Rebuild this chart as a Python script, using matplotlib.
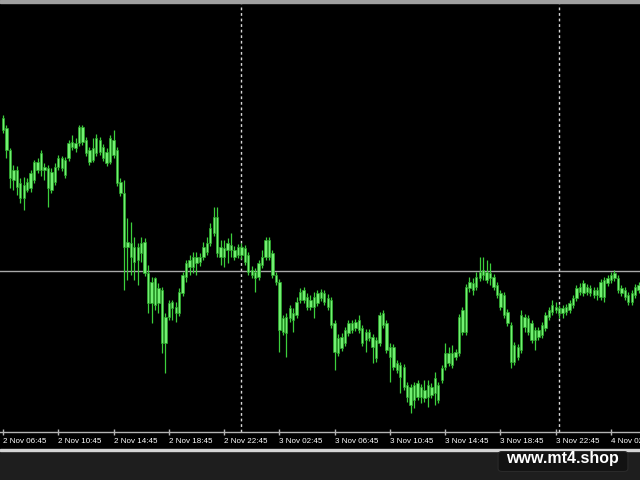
import matplotlib
matplotlib.use("Agg")
import matplotlib.pyplot as plt
from matplotlib.patches import Rectangle, FancyBboxPatch

# M15 candles, price in points (no price scale visible on the screenshot)
opens = [382, 372, 350, 320, 330, 317, 302, 310, 312, 320, 338, 330, 333, 332, 310, 318, 333, 342, 325, 342,
         353, 357, 357, 373, 360, 350, 340, 347, 360, 353, 348, 338, 360, 350, 318, 307, 253, 257, 238, 253,
         247, 258, 227, 197, 222, 197, 210, 157, 183, 198, 187, 187, 207, 223, 233, 233, 243, 238, 243, 248,
         257, 267, 283, 253, 243, 250, 255, 250, 245, 253, 252, 245, 230, 228, 223, 235, 243, 260, 247, 225,
         218, 168, 183, 182, 187, 185, 200, 200, 203, 193, 203, 197, 202, 207, 202, 200, 177, 147, 152, 157,
         167, 177, 172, 180, 172, 160, 168, 163, 160, 157, 175, 177, 153, 153, 137, 135, 133, 115, 113, 100,
         103, 113, 102, 103, 113, 107, 115, 120, 133, 147, 135, 143, 147, 168, 168, 212, 217, 213, 222, 225,
         228, 222, 223, 215, 207, 205, 188, 175, 138, 153, 150, 183, 182, 177, 160, 170, 165, 172, 183, 188,
         193, 192, 187, 188, 190, 195, 202, 208, 207, 213, 212, 210, 205, 203, 203, 217, 220, 222, 222, 212,
         210, 205, 198, 205, 210]
highs = [385, 375, 352, 335, 334, 322, 323, 322, 330, 340, 342, 350, 337, 335, 332, 337, 345, 344, 343, 360,
         365, 362, 375, 375, 363, 353, 362, 366, 363, 356, 352, 365, 370, 353, 322, 320, 282, 278, 263, 257,
         263, 262, 235, 223, 223, 217, 213, 187, 200, 200, 198, 212, 228, 240, 245, 248, 248, 247, 258, 263,
         277, 293, 293, 260, 260, 262, 267, 254, 256, 257, 255, 248, 234, 232, 240, 250, 263, 263, 250, 228,
         221, 185, 187, 195, 192, 203, 212, 213, 207, 205, 208, 210, 211, 210, 206, 203, 180, 166, 167, 173,
         180, 180, 181, 185, 175, 171, 171, 166, 163, 188, 190, 180, 157, 156, 140, 138, 136, 118, 116, 118,
         120, 116, 120, 120, 117, 128, 118, 135, 157, 153, 155, 151, 186, 193, 216, 223, 222, 228, 243, 243,
         240, 237, 226, 218, 210, 208, 191, 178, 158, 156, 190, 186, 185, 180, 173, 173, 178, 188, 193, 200,
         198, 195, 195, 196, 200, 205, 215, 217, 220, 216, 215, 213, 213, 221, 223, 225, 228, 230, 225, 215,
         213, 208, 210, 216, 218]
lows = [367, 342, 312, 310, 305, 297, 290, 308, 308, 317, 327, 324, 320, 293, 307, 315, 330, 329, 322, 339,
        350, 348, 354, 355, 344, 335, 338, 344, 345, 339, 334, 336, 342, 314, 304, 210, 220, 225, 220, 215,
        238, 224, 187, 177, 190, 187, 147, 127, 180, 180, 178, 184, 204, 218, 225, 227, 225, 234, 240, 245,
        254, 264, 243, 235, 233, 237, 243, 240, 242, 241, 235, 225, 222, 208, 220, 232, 240, 240, 222, 215,
        148, 165, 143, 178, 168, 182, 197, 197, 190, 190, 182, 194, 199, 195, 190, 172, 130, 144, 149, 154,
        164, 167, 169, 167, 154, 148, 159, 137, 138, 154, 172, 147, 118, 130, 127, 107, 110, 98, 87, 92,
        100, 97, 98, 93, 102, 95, 97, 117, 130, 134, 132, 140, 144, 165, 165, 208, 205, 210, 219, 220,
        217, 215, 210, 202, 190, 182, 174, 132, 135, 140, 147, 168, 165, 157, 150, 160, 162, 169, 180, 185,
        187, 182, 182, 185, 187, 192, 199, 205, 204, 205, 204, 202, 200, 200, 198, 214, 217, 219, 207, 204,
        200, 195, 195, 202, 207]
closes = [370, 350, 322, 330, 313, 302, 315, 318, 327, 338, 330, 347, 330, 312, 328, 333, 342, 332, 340, 357,
          358, 352, 373, 358, 347, 338, 352, 362, 348, 342, 337, 362, 345, 317, 307, 253, 258, 243, 253, 240,
          257, 227, 197, 218, 195, 212, 157, 183, 197, 192, 193, 208, 225, 237, 240, 243, 237, 243, 253, 257,
          272, 283, 247, 243, 252, 257, 250, 243, 253, 245, 238, 228, 225, 222, 237, 243, 260, 243, 225, 218,
          170, 182, 167, 192, 180, 198, 208, 210, 193, 200, 193, 207, 208, 198, 193, 175, 148, 162, 163, 170,
          177, 170, 178, 170, 157, 168, 162, 153, 142, 185, 187, 150, 143, 133, 130, 123, 113, 103, 95, 115,
          117, 103, 110, 115, 105, 122, 100, 132, 147, 137, 147, 148, 183, 190, 213, 218, 210, 223, 228, 230,
          220, 227, 213, 205, 193, 185, 177, 138, 155, 143, 185, 173, 168, 160, 170, 163, 175, 185, 190, 195,
          190, 187, 192, 193, 197, 202, 212, 213, 217, 208, 207, 205, 210, 218, 220, 222, 225, 227, 210, 207,
          203, 198, 207, 213, 215]

tick_labels = ["2 Nov 06:45", "2 Nov 10:45", "2 Nov 14:45", "2 Nov 18:45", "2 Nov 22:45", "3 Nov 02:45",
               "3 Nov 06:45", "3 Nov 10:45", "3 Nov 14:45", "3 Nov 18:45", "3 Nov 22:45", "4 Nov 02:45"]
tick_bars = [0, 16, 32, 48, 64, 80, 96, 112, 128, 144, 160, 176]
separators = [69, 161]      # day separators (bar index)
hline_level = 229

n = len(closes)
idx = list(range(n))

fig = plt.figure(figsize=(6.4, 4.8), dpi=100, facecolor="black")

# axes occupies the chart window
ax = fig.add_axes([0, 48 / 480, 1, 428 / 480])
ax.set_facecolor("black")
ax.set_xlim(-0.87, 184.4)
ax.set_ylim(68, 496)

for s in separators:
    ax.axvline(s, color="#d8d8d8", lw=1, ls=(0, (2, 2)), zorder=1)
ax.axhline(hline_level, color="#a8a8a8", lw=1, zorder=1)

# wicks
ax.vlines(idx, lows, highs, color="#3ccf3c", lw=0.9, zorder=2)
# bodies
bottoms = [min(o, c) for o, c in zip(opens, closes)]
heights = [max(abs(c - o), 1.2) for o, c in zip(opens, closes)]
ax.bar(idx, heights, bottom=bottoms, width=0.7, color="#72f072",
       edgecolor="#2aa82a", linewidth=0.5, zorder=3)

for sp in ["top", "left", "right"]:
    ax.spines[sp].set_visible(False)
ax.spines["bottom"].set_color("#b4b4b4")
ax.spines["bottom"].set_linewidth(1)
ax.set_yticks([])
# last label runs off the right edge, as in the terminal window
ax.set_xticks(tick_bars, tick_labels, ha="left", fontsize=5.8,
              family=["Liberation Sans", "DejaVu Sans"])
ax.tick_params(axis="x", colors="#b4b4b4", labelcolor="white", direction="inout",
               length=4, width=1, pad=2)

# window frame bits
fig.patches.append(Rectangle((0, 477 / 480), 1, 3 / 480, transform=fig.transFigure,
                             color="#a0a0a0", zorder=0))
fig.patches.append(Rectangle((0, 0), 1, 29 / 480, transform=fig.transFigure,
                             color="#1e1e1e", zorder=0))
fig.patches.append(Rectangle((0, 29 / 480), 1, 2 / 480, transform=fig.transFigure,
                             color="#d4d4d4", zorder=0))
fig.patches.append(FancyBboxPatch((500 / 640, 10 / 480), 126 / 640, 17 / 480,
                                  boxstyle="round,pad=0.003,rounding_size=0.006",
                                  transform=fig.transFigure, facecolor="#121212",
                                  edgecolor="#2a2a2a", lw=0.8, zorder=1))
fig.text(562 / 640, 22 / 480, "www.mt4.shop", color="white", fontsize=11.5,
         fontweight="bold", family=["Liberation Sans", "DejaVu Sans"],
         ha="center", va="center", zorder=2)

fig.savefig("out.png", dpi=100, facecolor="black")
